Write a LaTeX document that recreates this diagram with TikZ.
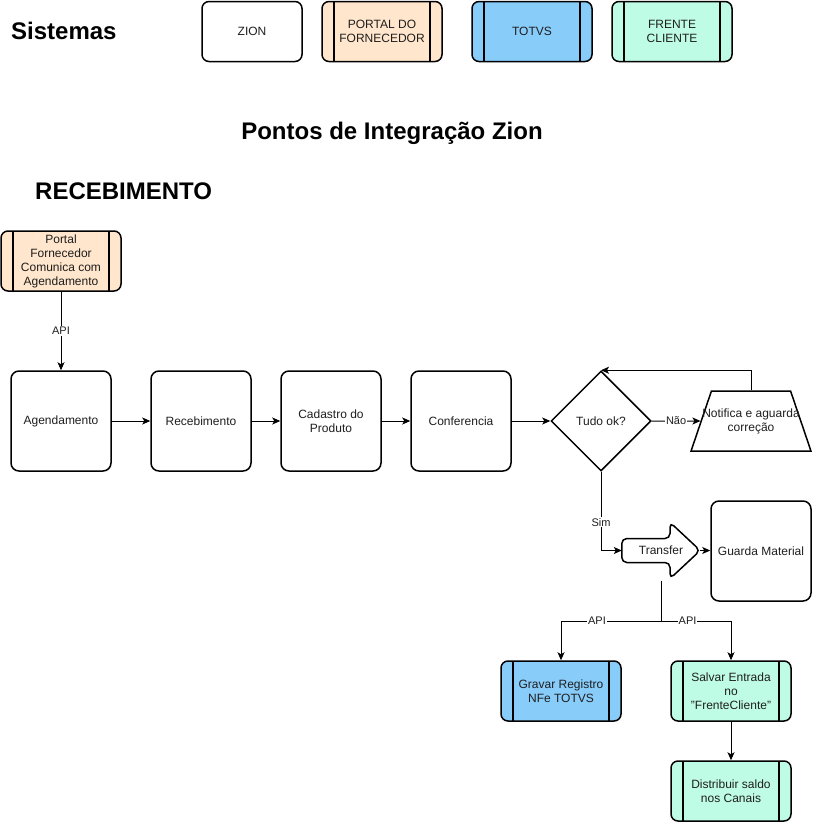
\documentclass[tikz,border=0pt]{standalone}
\usepackage{fontspec}
\setmainfont{Liberation Sans}
\usetikzlibrary{shapes.geometric,arrows.meta,calc}
\definecolor{peach}{HTML}{FFE6CC}
\definecolor{tblue}{HTML}{88CCFA}
\definecolor{mint}{HTML}{BFFCE6}
\definecolor{txt}{HTML}{1E1E1E}
\begin{document}
\begin{tikzpicture}[x=1pt,y=-1pt,
  txtfont/.style={font=\fontsize{12}{14}\selectfont, text=txt},
  box/.style={draw, line width=1.5, rounded corners=8, minimum width=100, minimum height=100,
    inner xsep=2, inner ysep=0, align=center, txtfont},
  sbox/.style={box, minimum width=120, minimum height=60, rounded corners=7},
  proc/.style={sbox, path picture={\draw[line width=1.5]
      ([xshift=12]path picture bounding box.north west) -- ([xshift=12]path picture bounding box.south west)
      ([xshift=-12]path picture bounding box.north east) -- ([xshift=-12]path picture bounding box.south east);}},
  shapeline/.style={draw, line width=1.5, fill=white},
  conn/.style={draw, line width=1, -{Stealth[length=8,width=7,inset=2]}},
  plain/.style={draw, line width=1},
  lbl/.style={font=\fontsize{11}{13}\selectfont, text=txt, fill=white, inner sep=1},
  headtxt/.style={font=\fontsize{24}{27}\selectfont\bfseries, inner sep=0}
]
\useasboundingbox (0,0) rectangle (812,822);

% headings
\node[headtxt, anchor=base west] (sis) at (11,39) {Sistemas};
\node[headtxt, anchor=base] (pontos) at (392,139) {Pontos de Integração Zion};
\node[headtxt, anchor=base west] (receb) at (35,199) {RECEBIMENTO};

% legend
\node[sbox, minimum width=100] (lzion) at (252,31.5) {ZION};
\node[proc, fill=peach] (lportal) at (382,31.5) {PORTAL DO\\FORNECEDOR};
\node[proc, fill=tblue] (ltotvs) at (532,31.5) {TOTVS};
\node[proc, fill=mint] (lfrente) at (672,31.5) {FRENTE\\CLIENTE};

% flow
\node[proc, fill=peach] (portal) at (61,261) {Portal\\Fornecedor\\Comunica com\\Agendamento};
\node[box] (ag) at (61,421) {Agendamento};
\node[box] (rc) at (201,421) {Recebimento};
\node[box] (cad) at (331,421) {Cadastro do\\Produto};
\node[box] (conf) at (461,421) {Conferencia};
\node[diamond, draw, line width=1.5, minimum width=100, minimum height=100, inner sep=0, aspect=1, txtfont] (ok) at (601,421) {Tudo ok?};
\node[trapezium, draw, line width=1.5, trapezium angle=76, trapezium stretches=true,
  minimum width=120, minimum height=60, inner sep=2,
  label={[align=center, txtfont]center:Notifica e aguarda\\correção}] (notif) at (751,421) {\phantom{x}};

% Transfer arrow shape
\node[minimum width=78, minimum height=56, inner sep=0, txtfont] (tr) at (661,550.5) {};
\draw[shapeline, rounded corners=5]
  ($(tr.west)+(0,-12)$) -- ($(tr.center)+(9,-12)$) -- ($(tr.north)+(9,0)$) -- (tr.east)
  -- ($(tr.south)+(9,0)$) -- ($(tr.center)+(9,12)$) -- ($(tr.west)+(0,12)$) -- cycle;
\node[txtfont] (trtext) at (tr.center) {Transfer};

\node[box] (gm) at (761,551) {Guarda Material};
\node[proc, fill=tblue] (gr) at (561,691) {Gravar Registro\\NFe TOTVS};
\node[proc, fill=mint] (sv) at (731,691) {Salvar Entrada\\no\\"FrenteCliente"};
\node[proc, fill=mint] (ds) at (731,791) {Distribuir saldo\\nos Canais};

% connectors
\draw[conn] (portal) -- node[lbl]{API} (ag);
\draw[conn] (ag) -- (rc);
\draw[conn] (rc) -- (cad);
\draw[conn] (cad) -- (conf);
\draw[conn] (conf) -- (ok);
\draw[conn] (ok) -- node[lbl]{Não} (notif);
\draw[conn] (notif.north) |- (ok.north);
\draw[conn] (ok.south) |- node[lbl, pos=0.32]{Sim} (tr.west);
\draw[conn] (tr.east) -- (gm.west |- tr.east);
\coordinate (sp) at ([yshift=-70.5]tr.center);
\draw[plain] ([yshift=-2]tr.south) -- (sp);
\draw[conn] (sp) -| node[lbl, pos=0.32]{API} (gr.north);
\draw[conn] (sp) -| node[lbl, pos=0.19]{API} (sv.north);
\draw[conn] (sv) -- (ds);
\end{tikzpicture}
\end{document}
